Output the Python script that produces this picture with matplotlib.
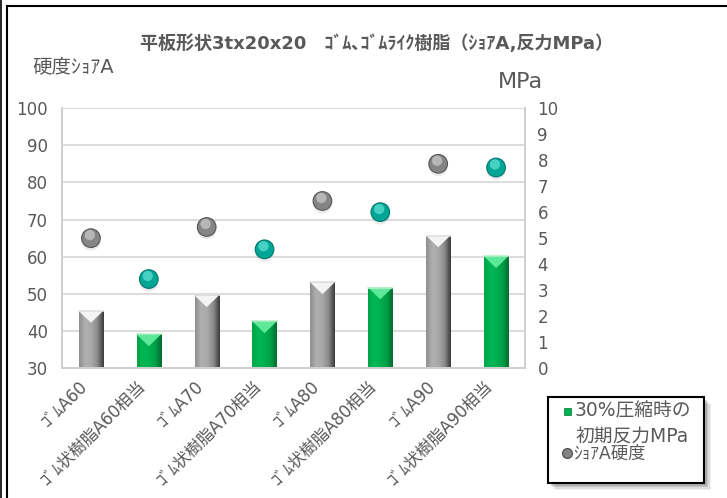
import matplotlib
matplotlib.use("Agg")
import matplotlib.pyplot as plt
import numpy as np
from matplotlib.patches import Rectangle, Polygon
from matplotlib.lines import Line2D
import matplotlib.transforms as mtransforms

plt.rcParams['font.family'] = ['DejaVu Sans', 'Noto Sans CJK JP']

categories = ['ｺﾞﾑA60', 'ｺﾞﾑ状樹脂A60相当', 'ｺﾞﾑA70', 'ｺﾞﾑ状樹脂A70相当',
              'ｺﾞﾑA80', 'ｺﾞﾑ状樹脂A80相当', 'ｺﾞﾑA90', 'ｺﾞﾑ状樹脂A90相当']
reaction_mpa = [2.2, 1.3, 2.8, 1.8, 3.3, 3.1, 5.1, 4.3]
hardness_a = [65, 54, 68, 62, 75, 72, 85, 84]
is_resin = [False, True, False, True, False, True, False, True]

title = '平板形状3tx20x20\u3000ｺﾞﾑ､ｺﾞﾑﾗｲｸ樹脂（ｼｮｱA,反力MPa）'
left_label = '硬度ｼｮｱA'
right_label = 'MPa'
legend_bar = ['30%圧縮時の', '初期反力MPa']
legend_pt = 'ｼｮｱA硬度'

TXT = '#595959'
W, H = 727, 498
fig = plt.figure(figsize=(W / 100, H / 100), dpi=100)

def fx(px):
    return px / W

def fy(py):
    return 1 - py / H

ax = fig.add_axes([fx(62), fy(368.3), fx(525) - fx(62), fy(108) - fy(368.3)])
ax2 = ax.twinx()

x = np.arange(len(categories))

# left axis: hardness points
ax.set_ylim(30, 100)
ax.set_yticks(np.arange(30, 101, 10))
ax.set_xlim(-0.5, len(categories) - 0.5)
ax.tick_params(axis='y', length=0, pad=10, labelsize=12, labelcolor=TXT)
ax.tick_params(axis='x', length=0, pad=11)
ax.set_xticks(x)
ax.set_xticklabels(categories, rotation=45, ha='right', va='center',
                   rotation_mode='anchor', fontsize=12, color=TXT)
shift = mtransforms.ScaledTranslation(-6 / 100, 0, fig.dpi_scale_trans)
for lab in ax.get_xticklabels():
    lab.set_transform(lab.get_transform() + shift)

# right axis: bars
ax2.set_ylim(0, 10)
ax2.set_yticks(np.arange(0, 11, 1))
ax2.tick_params(axis='y', length=0, pad=9, labelsize=12, labelcolor=TXT)

for a in (ax, ax2):
    a.spines['top'].set_visible(False)
    for s in ('left', 'right', 'bottom'):
        a.spines[s].set_color('#d0d0d0')
        a.spines[s].set_linewidth(1.3)

gray_cmap = matplotlib.colors.LinearSegmentedColormap.from_list(
    'g', ['#8e8e8e', '#b0b0b0', '#a8a8a8', '#8a8a8a', '#3a3a3a'])
green_cmap = matplotlib.colors.LinearSegmentedColormap.from_list(
    'gr', ['#00a348', '#00b855', '#00b050', '#00a046', '#006a30'])
grad = np.linspace(0, 1, 64).reshape(1, -1)

for v in np.arange(40, 101, 10):
    ax2.axhline((v - 30) / 70 * 10, color='#d9d9d9', lw=1.3, zorder=0)

bars = ax2.bar(x, reaction_mpa, width=0.42, color='none', edgecolor='none', zorder=2)
for b, resin in zip(bars, is_resin):
    bx, bw, bh = b.get_x(), b.get_width(), b.get_height()
    im = ax2.imshow(grad, cmap=green_cmap if resin else gray_cmap, aspect='auto',
                    extent=[bx, bx + bw, 0, bh], zorder=2, interpolation='bicubic')
    im.set_clip_path(b)
    tri_h = 0.45
    tri = Polygon([[bx, bh], [bx + bw, bh], [bx + bw / 2, bh - tri_h]],
                  closed=True, facecolor='#5ee89a' if resin else '#f4f4f4',
                  edgecolor='none', zorder=3)
    ax2.add_patch(tri)
    ax2.add_line(Line2D([bx, bx + bw], [bh, bh], color='#b8f0c8' if resin else '#e0e0e0',
                        lw=1.2, zorder=3))
ax2.set_xlim(-0.5, len(categories) - 0.5)

ax.set_zorder(ax2.get_zorder() + 1)
ax.patch.set_visible(False)

pt_colors = ['#00a596' if r else '#858585' for r in is_resin]
hi_colors = ['#5fe0d2' if r else '#c8c8c8' for r in is_resin]
edge_colors = ['#00786c' if r else '#555555' for r in is_resin]
shadow = mtransforms.offset_copy(ax.transData, fig=fig, x=0, y=-2, units='points')
ax.scatter(x, hardness_a, s=190, c='#c0c0c0', alpha=0.35, edgecolors='none',
           transform=shadow, zorder=3)
ax.scatter(x, hardness_a, s=180, c=pt_colors, edgecolors=edge_colors, linewidths=0.8, zorder=4)
hl = mtransforms.offset_copy(ax.transData, fig=fig, x=-0.8, y=2.2, units='points')
ax.scatter(x, hardness_a, s=55, c=hi_colors, edgecolors='none', alpha=0.75,
           transform=hl, zorder=5)

# texts
fig.text(fx(377), fy(44), title, ha='center', va='center', fontsize=13,
         fontweight='bold', color=TXT)
fig.text(fx(73), fy(67), left_label, ha='center', va='center', fontsize=14, color=TXT)
fig.text(fx(520), fy(82), right_label, ha='center', va='center', fontsize=16, color=TXT)

# figure border
fig.add_artist(Line2D([fx(1.5), fx(1.5)], [0, 1], color='black', lw=1.2))
fig.add_artist(Line2D([fx(6.5), fx(6.5)], [0, fy(6)], color='black', lw=1.5))
fig.add_artist(Line2D([fx(6.5), 1], [fy(6), fy(6)], color='black', lw=1.5))

# legend box
lx0, lx1, ly0, ly1 = 548, 704, 397, 483
for i, a in enumerate([0.06, 0.08, 0.10, 0.12]):
    off = 7 - i * 1.5
    fig.add_artist(Rectangle((fx(lx0 + off), fy(ly1 + off)), fx(lx1 - lx0), fy(ly0) - fy(ly1),
                             facecolor='black', alpha=a, edgecolor='none'))
fig.add_artist(Rectangle((fx(lx0), fy(ly1)), fx(lx1 - lx0), fy(ly0) - fy(ly1),
                         facecolor='white', edgecolor='black', lw=1.5))
fig.add_artist(Rectangle((fx(563.5), fy(415)), fx(7), fy(0) - fy(7),
                         facecolor='#00b050', edgecolor='#007a38', lw=0.5))
fig.add_artist(Line2D([fx(567)], [fy(453)], marker='o', markersize=7,
                      markerfacecolor='#858585', markeredgecolor='#555555', lw=0))
fig.text(fx(575), fy(411), legend_bar[0], ha='left', va='center', fontsize=13.5, color=TXT)
fig.text(fx(576), fy(436), legend_bar[1], ha='left', va='center', fontsize=13.5, color=TXT)
fig.text(fx(573), fy(454), legend_pt, ha='left', va='center', fontsize=12.5, color=TXT)

fig.savefig('out.png', dpi=100)
